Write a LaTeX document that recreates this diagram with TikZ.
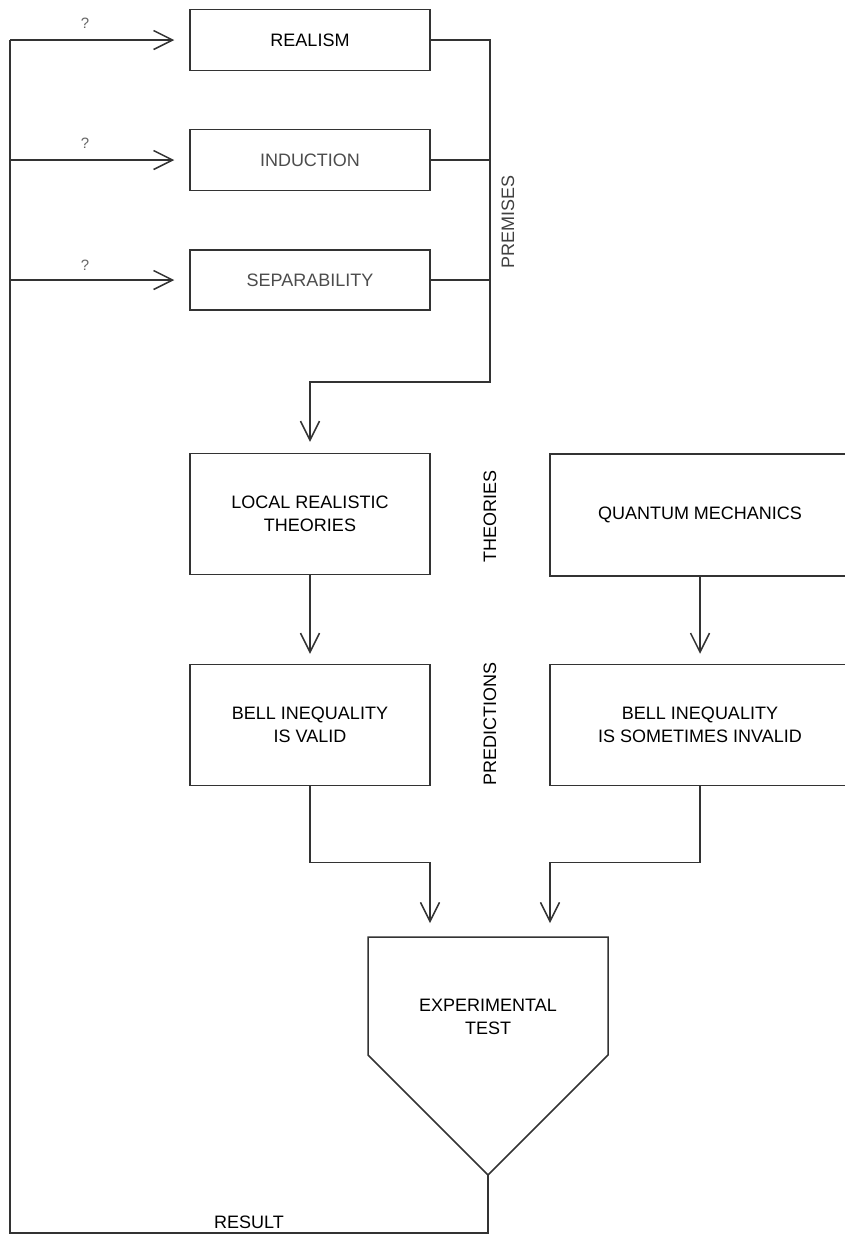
\documentclass[tikz,border=0pt]{standalone}
\usepackage{fontspec}
\setmainfont{Liberation Sans}
\usetikzlibrary{arrows.meta}

\begin{document}
\begin{tikzpicture}[
  x=1pt, y=-1pt,
  line width=1.5pt, draw=black!80,
  box/.style={draw=black!80, rectangle, inner sep=0pt, minimum width=240pt, align=center,
    font=\fontsize{18}{23}\selectfont},
  wbox/.style={box, minimum width=300pt},
  arr/.style={-{Straight Barb[length=19pt,width=19pt,line width=1.5pt]}},
  lbl/.style={font=\fontsize{18}{23}\selectfont, inner sep=0pt},
  qmark/.style={font=\fontsize{15}{17}\selectfont, text=black!60, inner sep=0pt}
]
\useasboundingbox (0,0) rectangle (845,1235);
\clip (0,0) rectangle (845,1235);

% premises
\node [box, minimum height=61pt] (realism) at (310,40) {REALISM};
\node [box, minimum height=61pt, text=black!70] (induction) at (310,160) {INDUCTION};
\node [box, minimum height=60pt, text=black!70] (separability) at (310,280) {SEPARABILITY};
\node [lbl, rotate=90, text=black!75] (premises) at (508,222) {PREMISES};

% theories and predictions
\node [box, minimum height=121pt] (local) at (310,514) {LOCAL REALISTIC\\THEORIES};
\node [wbox, minimum height=122pt] (qm) at (700,515) {QUANTUM MECHANICS};
\node [box, minimum height=121pt] (bellvalid) at (310,725) {BELL INEQUALITY\\IS VALID};
\node [wbox, minimum height=121pt] (bellinvalid) at (700,725) {BELL INEQUALITY\\IS SOMETIMES INVALID};
\node [lbl, rotate=90] (theories) at (490,516) {THEORIES};
\node [lbl, rotate=90] (predictions) at (490,724) {PREDICTIONS};

% experimental test
\coordinate (testtip) at (488,1175);
\draw (368,937) -- (608,937) -- (608,1055) -- (testtip) -- (368,1055) -- cycle;
\node [lbl, align=center] (test) at (488,1017) {EXPERIMENTAL\\TEST};
\coordinate (inleft) at (430,937);
\coordinate (inright) at (550,937);

% result loop
\coordinate (corner) at (10,1233);
\coordinate (looptop) at (10,40);
\draw (testtip) -- (testtip |- corner) -- (corner) -- (looptop);
\node [lbl] (result) at (249,1222) {RESULT};

\draw [arr, shorten >=15pt] (looptop) -- (realism.west);
\draw [arr, shorten >=15pt] (looptop |- induction) -- (induction.west);
\draw [arr, shorten >=15pt] (looptop |- separability) -- (separability.west);
\node [qmark] at (85,23) {?};
\node [qmark] at (85,143) {?};
\node [qmark] at (85,265) {?};

% premises bus
\coordinate (bus) at (490,382);
\draw (induction.east) -- (induction.east -| bus);
\draw (separability.east) -- (separability.east -| bus);
\draw [arr, shorten >=11pt] (realism.east) -| (bus) -| (local.north);

\draw [arr, shorten >=10pt] (local.south) -- (bellvalid.north);
\draw [arr, shorten >=10pt] (qm.south) -- (bellinvalid.north);

\draw [arr, shorten >=14pt] (bellvalid.south) -- ++(0,76) -| (inleft);
\draw [arr, shorten >=14pt] (bellinvalid.south) -- ++(0,76) -| (inright);

\end{tikzpicture}
\end{document}
